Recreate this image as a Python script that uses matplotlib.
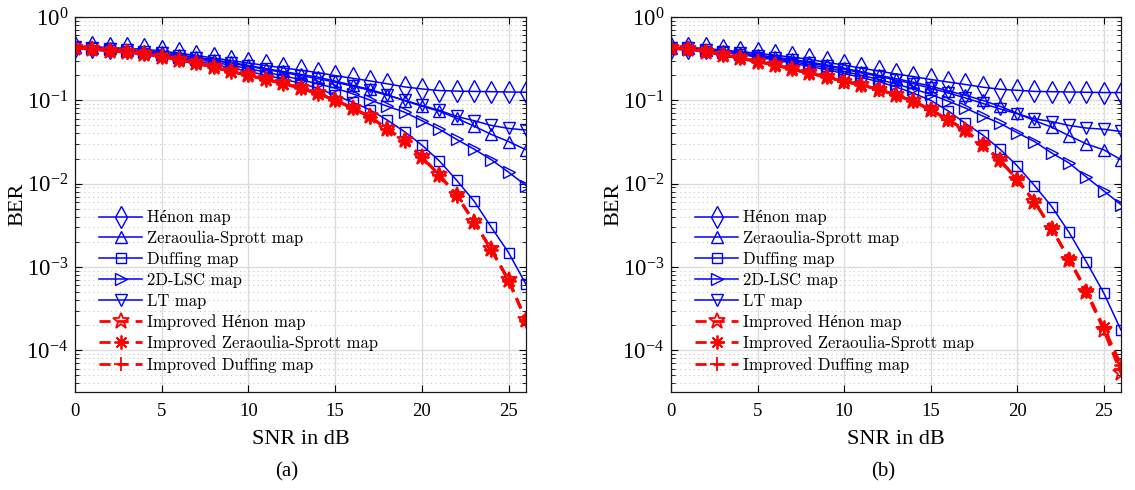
import numpy as np
import matplotlib
matplotlib.use('Agg')
import matplotlib.pyplot as plt
from matplotlib.ticker import FixedLocator, LogLocator, NullFormatter

plt.rcParams['font.family'] = ['Liberation Serif', 'DejaVu Serif']
plt.rcParams['mathtext.fontset'] = 'custom'
plt.rcParams['mathtext.rm'] = 'Liberation Serif'
plt.rcParams['mathtext.it'] = 'Liberation Serif:italic'

snr = np.arange(0, 27)

# panel (a)
henon_a = [0.44, 0.44, 0.43, 0.42, 0.41, 0.39, 0.367, 0.345, 0.322, 0.30, 0.28, 0.262, 0.245,
           0.23, 0.215, 0.198, 0.184, 0.171, 0.158, 0.145, 0.137, 0.131, 0.129, 0.128, 0.127, 0.126, 0.125]
zs_a = [0.44, 0.43, 0.42, 0.405, 0.39, 0.375, 0.35, 0.33, 0.305, 0.285, 0.262, 0.24, 0.222,
        0.205, 0.19, 0.17, 0.152, 0.135, 0.117, 0.099, 0.085, 0.074, 0.061, 0.049, 0.039, 0.032, 0.0255]
duff_a = [0.44, 0.42, 0.405, 0.39, 0.37, 0.345, 0.32, 0.295, 0.27, 0.245, 0.222, 0.2, 0.18,
          0.16, 0.14, 0.115, 0.095, 0.077, 0.058, 0.042, 0.029, 0.0188, 0.011, 0.0062, 0.0030, 0.00148, 0.00062]
lsc_a = [0.44, 0.425, 0.41, 0.395, 0.375, 0.355, 0.332, 0.31, 0.287, 0.263, 0.24, 0.218, 0.197,
         0.177, 0.158, 0.14, 0.12, 0.101, 0.085, 0.072, 0.057, 0.045, 0.034, 0.026, 0.0194, 0.0137, 0.0095]
lt_a = [0.44, 0.43, 0.415, 0.40, 0.385, 0.365, 0.345, 0.322, 0.30, 0.278, 0.256, 0.235, 0.216,
        0.198, 0.182, 0.165, 0.148, 0.132, 0.115, 0.10, 0.087, 0.076, 0.064, 0.057, 0.05, 0.046, 0.044]
ihenon_a = [0.43, 0.41, 0.395, 0.378, 0.36, 0.335, 0.306, 0.279, 0.25, 0.222, 0.2, 0.178, 0.16,
            0.14, 0.121, 0.101, 0.081, 0.064, 0.0457, 0.033, 0.021, 0.0128, 0.0073, 0.0035, 0.00163, 0.0007, 0.000232]
izs_a = [0.43, 0.41, 0.394, 0.377, 0.358, 0.334, 0.305, 0.278, 0.249, 0.221, 0.199, 0.177, 0.159,
         0.139, 0.12, 0.1, 0.08, 0.0632, 0.0452, 0.0326, 0.0207, 0.0126, 0.0072, 0.00345, 0.0016, 0.00068, 0.000228]
iduff_a = [0.43, 0.41, 0.395, 0.378, 0.359, 0.335, 0.306, 0.279, 0.25, 0.222, 0.2, 0.178, 0.16,
           0.14, 0.121, 0.1, 0.081, 0.0636, 0.0455, 0.0328, 0.0209, 0.0127, 0.0073, 0.0035, 0.00162, 0.00069, 0.00023]

# panel (b)
henon_b = [0.43, 0.43, 0.42, 0.40, 0.385, 0.367, 0.348, 0.33, 0.31, 0.285, 0.265, 0.243, 0.225,
           0.207, 0.193, 0.178, 0.166, 0.155, 0.144, 0.136, 0.132, 0.128, 0.127, 0.126, 0.125, 0.124, 0.124]
zs_b = [0.43, 0.42, 0.405, 0.39, 0.37, 0.35, 0.33, 0.31, 0.288, 0.265, 0.242, 0.22, 0.2,
        0.182, 0.165, 0.148, 0.13, 0.115, 0.1, 0.085, 0.07, 0.057, 0.0476, 0.0376, 0.03, 0.0255, 0.0194]
duff_b = [0.43, 0.415, 0.395, 0.375, 0.355, 0.33, 0.305, 0.28, 0.255, 0.232, 0.21, 0.188, 0.167,
          0.145, 0.122, 0.1, 0.075, 0.053, 0.0386, 0.026, 0.0164, 0.0095, 0.0053, 0.0026, 0.00115, 0.00049, 0.000175]
lsc_b = [0.43, 0.415, 0.40, 0.38, 0.36, 0.338, 0.315, 0.292, 0.268, 0.245, 0.222, 0.2, 0.178,
         0.157, 0.137, 0.118, 0.098, 0.081, 0.065, 0.053, 0.041, 0.032, 0.0233, 0.0177, 0.012, 0.0082, 0.0056]
lt_b = [0.43, 0.42, 0.40, 0.385, 0.365, 0.345, 0.325, 0.303, 0.28, 0.258, 0.236, 0.214, 0.194,
        0.175, 0.158, 0.14, 0.123, 0.107, 0.092, 0.079, 0.069, 0.06, 0.0555, 0.05, 0.0465, 0.045, 0.0423]
ihenon_b = [0.42, 0.41, 0.385, 0.35, 0.32, 0.29, 0.266, 0.236, 0.211, 0.19, 0.168, 0.153, 0.134,
            0.116, 0.097, 0.077, 0.0584, 0.0435, 0.0294, 0.019, 0.0112, 0.006, 0.00286, 0.00123, 0.0005, 0.000175, 0.000053]
izs_b = [0.42, 0.41, 0.386, 0.352, 0.322, 0.292, 0.267, 0.237, 0.212, 0.191, 0.169, 0.154, 0.135,
         0.117, 0.098, 0.078, 0.059, 0.044, 0.0298, 0.0193, 0.0114, 0.0061, 0.0029, 0.00126, 0.00052, 0.00019, 0.000067]
iduff_b = [0.42, 0.41, 0.385, 0.351, 0.321, 0.291, 0.266, 0.236, 0.211, 0.19, 0.168, 0.153, 0.134,
           0.116, 0.097, 0.077, 0.0586, 0.0437, 0.0296, 0.0191, 0.0113, 0.006, 0.00288, 0.00124, 0.00051, 0.000182, 0.00006]

labels = ['H\u00e9non map', 'Zeraoulia-Sprott map', 'Duffing map', '2D-LSC map', 'LT map',
          'Improved H\u00e9non map', 'Improved Zeraoulia-Sprott map', 'Improved Duffing map']
yticks = [1e-4, 1e-3, 1e-2, 1e-1, 1e0]
yticklabels = [r'$10^{-4}$', r'$10^{-3}$', r'$10^{-2}$', r'$10^{-1}$', r'$10^{0}$']

W, H = 1135, 490
fig = plt.figure(figsize=(W / 100, H / 100), dpi=100)
ax1 = fig.add_axes([75 / W, 98 / H, 451 / W, 375 / H])
ax2 = fig.add_axes([671 / W, 98 / H, 450 / W, 375 / H])

blue_styles = [dict(marker='d', ms=11), dict(marker='^', ms=9), dict(marker='s', ms=7),
               dict(marker='>', ms=9), dict(marker='v', ms=9)]
red_styles = [dict(marker='*', ms=12), dict(marker=(8, 2, 0), ms=10), dict(marker='+', ms=10)]


def draw(ax, blues, reds, tag, xtag):
    for y, st, lab in zip(blues, blue_styles, labels[:5]):
        ax.semilogy(snr, y, color='b', lw=1.1, mfc='none', mew=1.0, label=lab, **st)
    for y, st, lab in zip(reds, red_styles, labels[5:]):
        ax.semilogy(snr, y, color='r', lw=2.0, ls=(0, (4, 2.5)), mfc='none', mew=1.3, label=lab, **st)
    ax.set_xlim(0, 26)
    ax.set_ylim(10 ** -4.5, 1)
    ax.set_xticks([0, 5, 10, 15, 20, 25])
    ax.yaxis.set_major_locator(FixedLocator(yticks))
    ax.set_yticklabels(yticklabels)
    ax.yaxis.set_minor_locator(LogLocator(base=10, subs=np.arange(2, 10)))
    ax.yaxis.set_minor_formatter(NullFormatter())
    ax.grid(True, which='major', color='#dcdcdc', lw=1.0)
    ax.grid(True, which='minor', axis='y', color='#c8c8c8', ls=(0, (1, 3)), lw=0.8)
    ax.set_axisbelow(True)
    ax.tick_params(which='both', direction='in', top=True, right=True)
    ax.tick_params(axis='x', labelsize=13.5, pad=8)
    ax.tick_params(axis='y', labelsize=16.5, pad=5)
    ax.tick_params(which='major', length=5, width=0.8)
    ax.tick_params(which='minor', length=3, width=0.6)
    for s in ax.spines.values():
        s.set_linewidth(0.9)
        s.set_color('#1a1a1a')
    ax.set_xlabel('SNR in dB', fontsize=16)
    ax.xaxis.set_label_coords(0.5, -0.1)
    ax.set_ylabel('BER', fontsize=16)
    ax.yaxis.set_label_coords(-0.106, 0.5)
    ax.legend(loc='upper left', bbox_to_anchor=(0.053, 0.485), frameon=False,
              prop=dict(family=['cmr10', 'Liberation Serif'], size=12),
              borderaxespad=0, borderpad=0, labelspacing=0.33, handlelength=2.6,
              handletextpad=0.3)
    fig.text(xtag / W, 1 - 472 / H, tag, ha='center', va='center', fontsize=15)


draw(ax1, [henon_a, zs_a, duff_a, lsc_a, lt_a], [ihenon_a, izs_a, iduff_a], '(a)', 287)
draw(ax2, [henon_b, zs_b, duff_b, lsc_b, lt_b], [ihenon_b, izs_b, iduff_b], '(b)', 883)

fig.savefig('out.png', dpi=100)
